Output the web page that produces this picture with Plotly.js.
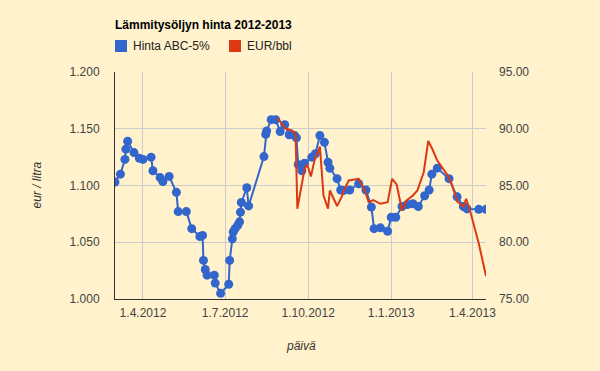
<!DOCTYPE html>
<html>
<head>
<meta charset="utf-8">
<script src="https://cdn.plot.ly/plotly-3.0.1.min.js"></script>
<style>html,body{margin:0;padding:0;background:#fff2cc;}#chart{width:600px;height:371px;}</style>
</head>
<body>
<div id="chart"></div>
<script>
const chartTitle = 'Lämmitysöljyn hinta 2012-2013';
const seriesNames = ['Hinta ABC-5%', 'EUR/bbl'];
const xTitle = 'päivä';
const yTitle = 'eur / litra';

const hintaDates = ['2012-03-01','2012-03-07','2012-03-12','2012-03-13','2012-03-15','2012-03-22','2012-03-28','2012-04-01','2012-04-10','2012-04-12','2012-04-20','2012-04-23','2012-04-30','2012-05-08','2012-05-10','2012-05-19','2012-05-25','2012-06-03','2012-06-06','2012-06-07','2012-06-09','2012-06-11','2012-06-19','2012-06-20','2012-06-26','2012-07-05','2012-07-06','2012-07-09','2012-07-10','2012-07-12','2012-07-15','2012-07-17','2012-07-18','2012-07-19','2012-07-25','2012-07-27','2012-08-13','2012-08-15','2012-08-16','2012-08-21','2012-08-26','2012-08-31','2012-09-05','2012-09-10','2012-09-16','2012-09-18','2012-09-20','2012-09-24','2012-09-27','2012-10-05','2012-10-09','2012-10-14','2012-10-19','2012-10-23','2012-10-25','2012-11-02','2012-11-06','2012-11-09','2012-11-16','2012-11-26','2012-12-04','2012-12-10','2012-12-13','2012-12-20','2012-12-28','2013-01-01','2013-01-06','2013-01-13','2013-01-19','2013-01-25','2013-01-31','2013-02-07','2013-02-12','2013-02-15','2013-02-21','2013-03-06','2013-03-15','2013-03-22','2013-03-26','2013-04-08','2013-04-16'];
const hintaValues = [1.103,1.110,1.123,1.132,1.139,1.129,1.124,1.123,1.125,1.113,1.107,1.1035,1.108,1.094,1.077,1.077,1.062,1.055,1.056,1.034,1.026,1.021,1.021,1.014,1.005,1.013,1.034,1.053,1.059,1.062,1.065,1.068,1.0765,1.085,1.098,1.082,1.1255,1.145,1.148,1.158,1.158,1.1475,1.1535,1.1447,1.144,1.142,1.1185,1.113,1.1197,1.125,1.128,1.144,1.138,1.1205,1.1153,1.106,1.096,1.0956,1.096,1.1015,1.096,1.081,1.062,1.0627,1.0597,1.072,1.072,1.0815,1.0833,1.0839,1.0815,1.091,1.096,1.110,1.1153,1.106,1.090,1.0815,1.0794,1.079,1.079];

const bblDates = ['2012-08-28','2012-09-06','2012-09-13','2012-09-17','2012-09-19','2012-09-23','2012-09-27','2012-09-30','2012-10-04','2012-10-08','2012-10-14','2012-10-18','2012-10-23','2012-10-25','2012-11-02','2012-11-07','2012-11-10','2012-11-15','2012-11-26','2012-12-02','2012-12-07','2012-12-12','2012-12-20','2012-12-28','2013-01-02','2013-01-07','2013-01-13','2013-01-18','2013-01-25','2013-01-30','2013-02-06','2013-02-11','2013-02-15','2013-02-21','2013-03-04','2013-03-09','2013-03-15','2013-03-22','2013-03-25','2013-03-29','2013-04-08','2013-04-16'];
const bblValues = [90.95,90.02,89.85,89.58,82.95,84.56,86.45,86.85,85.79,87.2,88.43,84.12,82.95,84.56,83.19,83.97,84.65,85.44,85.59,84.71,83.53,83.72,83.39,83.53,85.59,85.09,82.8,83.68,84.12,84.56,86.17,88.92,88.3,87.2,85.97,85.13,83.59,83.15,83.83,82.89,79.89,77.03];

const xTickVals = ['2012-04-01','2012-07-01','2012-10-01','2013-01-01','2013-04-01'];
const xTickText = ['1.4.2012','1.7.2012','1.10.2012','1.1.2013','1.4.2013'];
const yTickVals = [1.0,1.05,1.1,1.15,1.2];
const y2TickVals = [75,80,85,90,95];

const W = 600, H = 371, L = 115, R = 114, T = 72, B = 72;
const pw = W - L - R, ph = H - T - B;
const px = x => (x - L) / pw;
const py = y => (H - B - y) / ph;

const blue = '#3366cc', red = '#dc3912';
const font = 'Arial, Liberation Sans, sans-serif';

const traces = [
  {x: bblDates, y: bblValues, yaxis: 'y2', type: 'scatter', mode: 'lines', name: seriesNames[1],
   line: {color: red, width: 2}, showlegend: false},
  {x: hintaDates, y: hintaValues, type: 'scatter', mode: 'lines+markers', name: seriesNames[0],
   line: {color: blue, width: 2}, marker: {color: blue, size: 9}, showlegend: false}
];

const layout = {
  width: W, height: H,
  margin: {l: L, r: R, t: T, b: B, pad: 0},
  paper_bgcolor: '#fff2cc', plot_bgcolor: '#fff2cc',
  font: {family: font, size: 12, color: '#444'},
  title: {text: chartTitle, xref: 'container', yref: 'container', x: 115/W, xanchor: 'left',
          y: 1 - 25/H, yanchor: 'middle', font: {family: font, size: 12, color: '#000', weight: 'bold'}},
  xaxis: {type: 'date', range: [hintaDates[0], hintaDates[hintaDates.length-1]],
          tickvals: xTickVals, ticktext: xTickText, showgrid: true, gridcolor: '#cccccc', gridwidth: 1,
          showline: true, linecolor: '#333', linewidth: 1, zeroline: false, ticks: '',
          ticklabelstandoff: 3, tickfont: {size: 12, color: '#444'}},
  yaxis: {range: [1.0, 1.2], tickvals: yTickVals, tickformat: '.3f', showgrid: true, gridcolor: '#cccccc',
          showline: true, linecolor: '#333', linewidth: 1, zeroline: false, ticks: '',
          ticklabelstandoff: 12, tickfont: {size: 12, color: '#444'}},
  yaxis2: {range: [75, 95], tickvals: y2TickVals, tickformat: '.2f', overlaying: 'y', side: 'right',
           showgrid: false, showline: false, zeroline: false, ticks: '',
           ticklabelstandoff: 12, tickfont: {size: 12, color: '#444'}},
  shapes: [
    {type: 'rect', xref: 'paper', yref: 'paper', x0: px(115), x1: px(127), y0: py(52), y1: py(40),
     fillcolor: blue, line: {width: 0}},
    {type: 'rect', xref: 'paper', yref: 'paper', x0: px(229), x1: px(241), y0: py(52), y1: py(40),
     fillcolor: red, line: {width: 0}}
  ],
  annotations: [
    {text: seriesNames[0], xref: 'paper', yref: 'paper', x: px(131), y: py(46), xanchor: 'left', yanchor: 'middle',
     showarrow: false, font: {size: 12, color: '#222'}},
    {text: seriesNames[1], xref: 'paper', yref: 'paper', x: px(245), y: py(46), xanchor: 'left', yanchor: 'middle',
     showarrow: false, font: {size: 12, color: '#222'}},
    {text: xTitle, xref: 'paper', yref: 'paper', x: px(300.5), y: py(345.5), xanchor: 'center', yanchor: 'middle',
     showarrow: false, font: {size: 12, color: '#333', style: 'italic'}},
    {text: yTitle, xref: 'paper', yref: 'paper', x: px(36.5), y: py(185), xanchor: 'center', yanchor: 'middle',
     textangle: -90, showarrow: false, font: {size: 12, color: '#333', style: 'italic'}}
  ],
  hovermode: false
};

Plotly.newPlot('chart', traces, layout, {displayModeBar: false, staticPlot: true});
</script>
</body>
</html>
